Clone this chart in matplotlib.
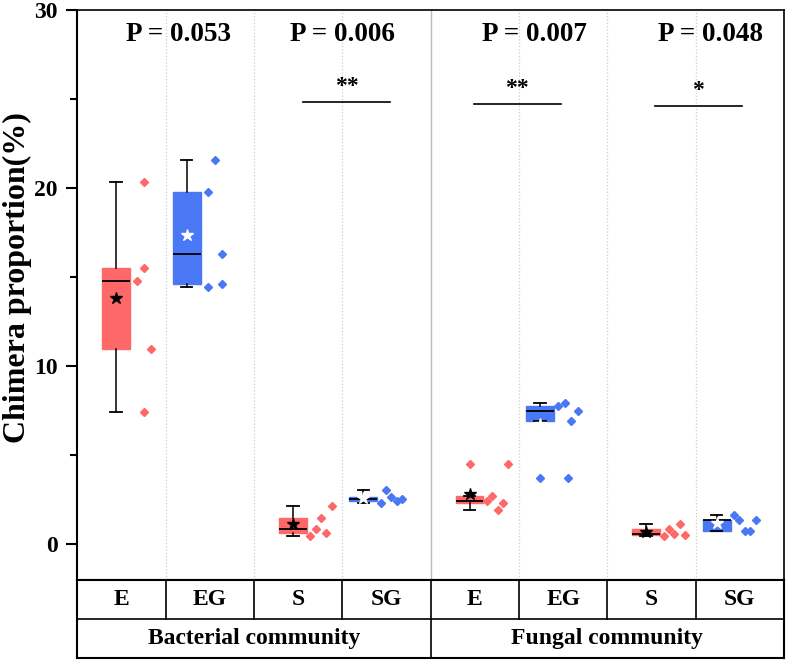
import matplotlib
matplotlib.use('Agg')
import matplotlib.pyplot as plt

plt.rcParams['font.family'] = ['Liberation Serif', 'DejaVu Serif']
plt.rcParams['font.weight'] = 'bold'

# values (5 replicates per treatment)
treatments = ['E', 'EG', 'S', 'SG', 'E', 'EG', 'S', 'SG']
communities = ['Bacterial community', 'Fungal community']
bact_E = [20.35, 15.49, 14.79, 10.99, 7.42]
bact_EG = [21.6, 19.76, 16.28, 14.46, 14.62]
bact_S = [2.13, 1.50, 0.88, 0.47, 0.62]
bact_SG = [3.05, 2.68, 2.57, 2.46, 2.32]
fung_E = [4.53, 2.74, 2.46, 2.34, 1.95]
fung_EG = [7.74, 7.94, 7.47, 6.95, 3.72]
fung_S = [0.47, 0.88, 0.56, 1.12, 0.52]
fung_SG = [1.65, 1.37, 1.39, 0.73, 0.73]
p_values = ['P = 0.053', 'P = 0.006', 'P = 0.007', 'P = 0.048']
sig_marks = ['**', '**', '*']

groups = [bact_E, bact_EG, bact_S, bact_SG, fung_E, fung_EG, fung_S, fung_SG]

# layout (x offsets of the jittered points, annotation spots)
jitter = [
    [0.254, 0.254, 0.181, 0.333, 0.257],
    [0.059, -0.020, 0.135, -0.020, 0.135],
    [0.378, 0.257, 0.197, 0.136, 0.317],
    [-0.005, 0.056, 0.180, 0.119, -0.065],
    [0.378, 0.197, 0.136, 0.317, 0.257],
    [-0.057, 0.022, 0.172, 0.094, 0.060],
    [0.136, 0.197, 0.257, 0.317, 0.378],
    [-0.065, -0.005, 0.180, 0.056, 0.116],
]
p_x = [1.65, 3.5, 5.67, 7.67]
p_y = 28.65
sig_x = [(3.06, 4.04), (4.99, 5.97), (7.04, 8.02)]
sig_y = [24.85, 24.75, 24.6]

red = '#FF6868'
blue = '#4A78F4'

fig = plt.figure(figsize=(7.87, 6.62), dpi=100)
ax = fig.add_axes([0.0982, 0.1239, 0.898, 0.861])
tab = fig.add_axes([0.0982, 0.0053, 0.898, 0.1186])

for i, vals in enumerate(groups):
    pos = i + 1
    col = red if i % 2 == 0 else blue
    star = 'black' if i % 2 == 0 else 'white'
    bpos = pos - 0.06 if i % 2 == 0 else pos - 0.263
    ax.boxplot([vals], positions=[bpos], widths=0.316, whis=2.0,
               patch_artist=True, showmeans=True, capwidths=0.13,
               boxprops=dict(facecolor=col, edgecolor=col, linewidth=1),
               medianprops=dict(color='black', linewidth=1.3),
               whiskerprops=dict(color='black', linewidth=1.1),
               capprops=dict(color='black', linewidth=1.3),
               meanprops=dict(marker='*', markerfacecolor=star,
                              markeredgecolor=star, markersize=9),
               flierprops=dict(marker='D', markerfacecolor=col,
                               markeredgecolor=col, markersize=4.3))
    xs = [pos + j for j in jitter[i]]
    ax.plot(xs, vals, 'D', color=col, markersize=4.3, linestyle='none')

# group separators
for x in [1.5, 2.5, 3.5, 5.5, 6.5, 7.5]:
    ax.axvline(x, color='#CCCCCC', linestyle=':', linewidth=0.9, zorder=0)
ax.axvline(4.5, color='#BBBBBB', linewidth=1.0, zorder=0)

for txt, x in zip(p_values, p_x):
    ax.text(x, p_y, txt, ha='center', va='center', fontsize=19.5,
            fontweight='bold')

for (x0, x1), y, m in zip(sig_x, sig_y, sig_marks):
    ax.plot([x0, x1], [y, y], color='black', linewidth=1.2)
    ax.text((x0 + x1) / 2, y + 0.55, m, ha='center', va='baseline',
            fontsize=17, fontweight='bold')

ax.set_xlim(0.5, 8.5)
ax.set_ylim(-2.0, 30)
ax.set_xticks([])
ax.set_yticks([0, 10, 20, 30])
ax.set_yticks([5, 15, 25], minor=True)
ax.tick_params(axis='y', which='major', direction='out', length=8,
               width=1.5, labelsize=17, pad=6)
ax.tick_params(axis='y', which='minor', direction='out', length=5,
               width=1.5)
for lab in ax.get_yticklabels():
    lab.set_fontweight('bold')
ax.set_ylabel('Chimera proportion(%)', fontsize=23, fontweight='bold')
ax.yaxis.set_label_coords(-0.064, 0.53)
for s in ['left', 'bottom']:
    ax.spines[s].set_linewidth(1.5)
for s in ['top', 'right']:
    ax.spines[s].set_linewidth(1.2)

# category table under the plot
tab.set_xlim(0.5, 8.5)
tab.set_ylim(0, 2)
tab.set_xticks([])
tab.set_yticks([])
for s in tab.spines.values():
    s.set_linewidth(1.5)
tab.axhline(1, color='black', linewidth=1.2)
for x in [1.5, 2.5, 3.5, 5.5, 6.5, 7.5]:
    tab.plot([x, x], [1, 2], color='black', linewidth=1.2)
tab.plot([4.5, 4.5], [0, 2], color='black', linewidth=1.2)
for i, t in enumerate(treatments):
    tab.text(i + 1, 1.5, t, ha='center', va='center', fontsize=17,
             fontweight='bold')
for k, c in enumerate(communities):
    tab.text(2.5 + 4 * k, 0.5, c, ha='center', va='center', fontsize=17,
             fontweight='bold')

fig.savefig('out.png', dpi=100)
